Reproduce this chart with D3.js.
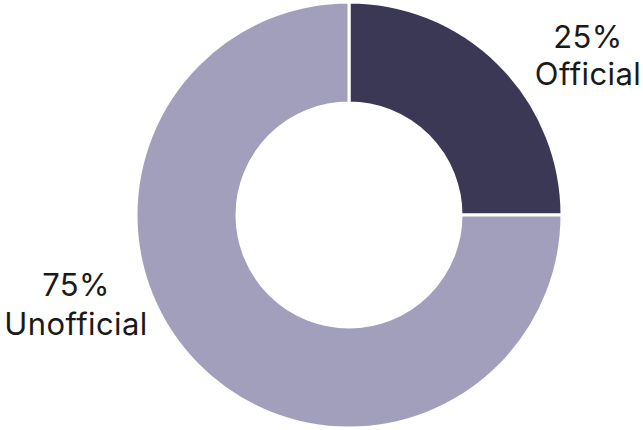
<!DOCTYPE html>
<html>
<head>
<meta charset="utf-8">
<script src="https://cdn.jsdelivr.net/npm/d3@7"></script>
<style>
  html, body { margin: 0; padding: 0; background: #fff; }
  svg { display: block; }
</style>
</head>
<body>
<svg id="chart" width="643" height="430"></svg>
<script>
const categories = ["Official", "Unofficial"];
const shares = [25, 75];
const colors = ["#3a3854", "#a29fbd"];

const svg = d3.select("#chart");
const cx = 349, cy = 215;
const outerR = 213, innerR = 112;

const data = categories.map((c, i) => ({ name: c, value: shares[i], color: colors[i] }));
const pie = d3.pie().sort(null).value(d => d.value);
const arc = d3.arc().innerRadius(innerR).outerRadius(outerR);
const arcs = pie(data);

const g = svg.append("g").attr("transform", `translate(${cx},${cy})`);
g.selectAll("path")
  .data(arcs)
  .join("path")
  .attr("d", arc)
  .attr("fill", d => d.data.color)
  .attr("stroke", "#fff")
  .attr("stroke-width", 3);

// Labels placed beside each slice
const labelPos = [
  { x: 588, y1: 48, y2: 85 },
  { x: 76, y1: 296, y2: 335 }
];
const font = "Inter, 'Noto Sans', sans-serif";
arcs.forEach((a, i) => {
  const p = labelPos[i];
  const t = svg.append("text")
    .attr("text-anchor", "middle")
    .attr("font-family", font)
    .attr("font-size", 31)
    .attr("letter-spacing", 0.4)
    .attr("fill", "#1a1a1a");
  t.append("tspan").attr("x", p.x).attr("y", p.y1).text(`${a.data.value}%`);
  t.append("tspan").attr("x", p.x).attr("y", p.y2).text(a.data.name);
});
</script>
</body>
</html>
